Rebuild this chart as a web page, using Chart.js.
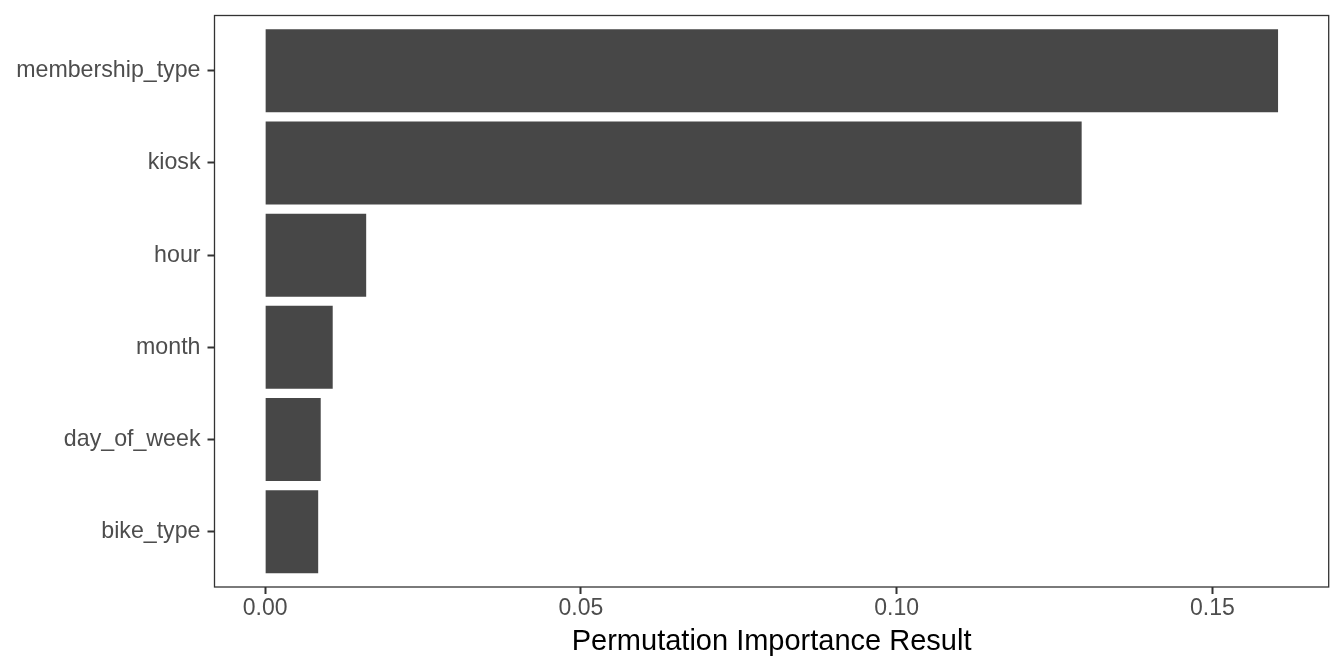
<!DOCTYPE html>
<html lang="en">
<head>
  <meta charset="UTF-8" />
  <title>Permutation Importance</title>
  <script src="https://cdn.jsdelivr.net/npm/chart.js"></script>
  <style>
    body {
      margin: 0;
      background: #ffffff;
    }
    canvas {
      display: block;
    }
  </style>
</head>
<body>
  <canvas id="chart" width="1344" height="672"></canvas>

  <script>
    // features, top to bottom as in the plot
    const features = ['membership_type', 'kiosk', 'hour', 'month', 'day_of_week', 'bike_type'];
    const importance = [0.1604, 0.1293, 0.0160, 0.0107, 0.0088, 0.0084];
    const xTicks = [0, 0.05, 0.10, 0.15];

    // ggplot-like expansion: 5% on the value axis, 0.6 on the discrete axis
    const xMax = Math.max(...importance);
    const xPad = xMax * 0.05;

    // bottom-most feature sits at position 1
    const n = features.length;
    const points = features.map((f, i) => ({ x: importance[i], y: n - i }));

    const FONT = "'Liberation Sans', Arial, sans-serif";

    // panel border drawn around the whole plot area
    const panelBorder = {
      id: 'panelBorder',
      afterDraw(chart) {
        const { ctx, chartArea: a } = chart;
        ctx.save();
        ctx.strokeStyle = '#333333';
        ctx.lineWidth = 1.3;
        ctx.strokeRect(a.left, a.top, a.right - a.left, a.bottom - a.top);
        ctx.restore();
      }
    };

    new Chart(document.getElementById('chart'), {
      type: 'bar',
      data: {
        datasets: [{
          data: points,
          backgroundColor: '#474747',
          borderWidth: 0,
          barPercentage: 0.9,
          categoryPercentage: 1.0
        }]
      },
      options: {
        indexAxis: 'y',
        responsive: false,
        devicePixelRatio: 1,
        animation: false,
        layout: { padding: { top: 15.5, right: 15.3, bottom: 0, left: 0 } },
        plugins: {
          legend: { display: false },
          tooltip: { enabled: false }
        },
        scales: {
          x: {
            type: 'linear',
            position: 'bottom',
            min: -xPad,
            max: xMax + xPad,
            afterBuildTicks: s => { s.ticks = xTicks.map(v => ({ value: v })); },
            afterFit: s => { s.height = 85; s.paddingLeft = 0; s.paddingRight = 0; },
            border: { display: false },
            grid: {
              drawOnChartArea: false,
              drawTicks: true,
              tickLength: 7,
              tickColor: '#333333',
              tickWidth: 2
            },
            ticks: {
              autoSkip: false,
              maxRotation: 0,
              padding: 1,
              color: '#4d4d4d',
              font: { family: FONT, size: 23 },
              callback: v => v.toFixed(2)
            },
            title: {
              display: true,
              text: 'Permutation Importance Result',
              color: '#000000',
              font: { family: FONT, size: 29 },
              padding: { top: 0, bottom: 12.5 }
            }
          },
          y: {
            type: 'linear',
            position: 'left',
            min: 0.4,
            max: n + 0.6,
            offset: false,
            afterBuildTicks: s => { s.ticks = features.map((f, i) => ({ value: n - i })); },
            afterFit: s => { s.width = 214.5; s.paddingTop = 0; s.paddingBottom = 0; },
            border: { display: false },
            grid: {
              offset: false,
              drawOnChartArea: false,
              drawTicks: true,
              tickLength: 7,
              tickColor: '#333333',
              tickWidth: 2
            },
            ticks: {
              autoSkip: false,
              padding: 7,
              color: '#4d4d4d',
              font: { family: FONT, size: 23.2 },
              callback: v => features[n - v]
            }
          }
        }
      },
      plugins: [panelBorder]
    });
  </script>
</body>
</html>
